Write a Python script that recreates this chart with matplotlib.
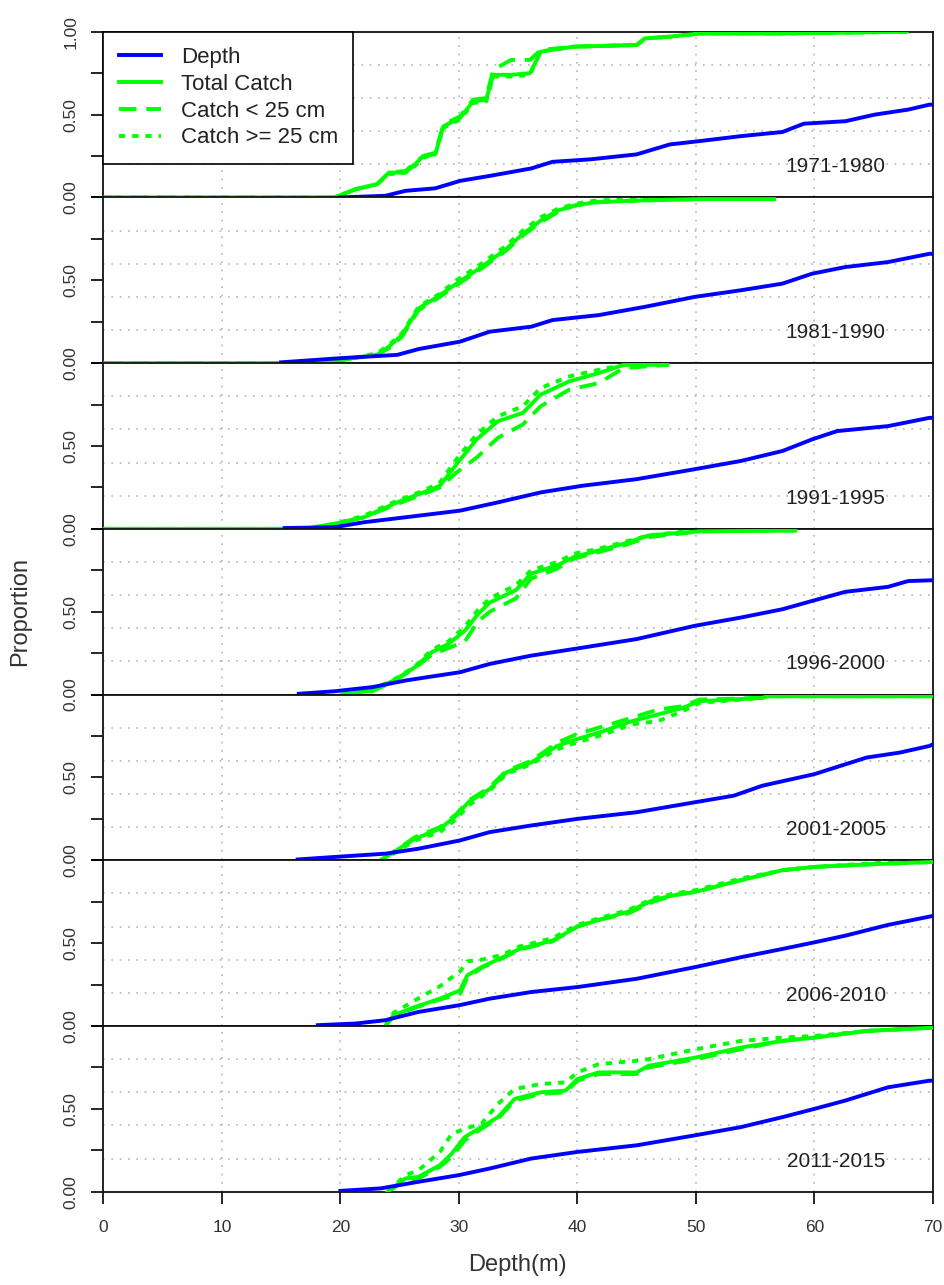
import matplotlib
matplotlib.use("Agg")
import matplotlib.pyplot as plt
from matplotlib.lines import Line2D

plt.rcParams['font.family'] = ['Liberation Sans', 'DejaVu Sans']

periods = ["1971-1980", "1981-1990", "1991-1995", "1996-2000",
           "2001-2005", "2006-2010", "2011-2015"]

# cumulative proportion of fished depth (blue)
depth_x = [
    [20.0, 23.8, 25.5, 28.0, 30.1, 32.6, 36.1, 37.9, 41.1, 45.0, 47.8, 50.3, 53.8, 57.3, 59.1, 62.6, 65.1, 67.9, 69.7, 70],
    [15.0, 20.0, 24.8, 26.6, 30.1, 32.6, 36.1, 37.9, 41.8, 45.7, 49.9, 53.8, 57.3, 59.8, 62.6, 66.2, 69.7, 70],
    [15.3, 19.5, 22.0, 25.5, 30.1, 33.3, 36.9, 40.4, 45.0, 49.9, 53.8, 57.3, 59.8, 61.9, 66.2, 69.7, 70],
    [16.5, 19.5, 22.7, 25.5, 30.1, 32.6, 36.1, 39.7, 45.0, 49.9, 53.8, 57.3, 59.8, 62.6, 66.2, 67.9, 70],
    [16.4, 19.5, 23.8, 26.6, 30.1, 32.6, 36.1, 40.0, 45.0, 49.9, 53.2, 55.6, 60.0, 64.4, 67.2, 69.7, 70],
    [18.1, 21.3, 23.8, 26.6, 30.0, 32.6, 36.1, 40.0, 45.0, 49.9, 53.8, 57.3, 60.0, 62.6, 66.2, 69.7, 70],
    [20.0, 23.4, 26.6, 30.0, 32.6, 36.1, 40.0, 45.0, 49.9, 53.8, 57.3, 60.0, 62.6, 66.2, 69.7, 70],
]
depth_y = [
    [0, 0.01, 0.04, 0.055, 0.10, 0.13, 0.175, 0.215, 0.23, 0.26, 0.32, 0.34, 0.37, 0.395, 0.445, 0.46, 0.50, 0.53, 0.56, 0.56],
    [0.005, 0.03, 0.05, 0.085, 0.13, 0.19, 0.22, 0.26, 0.29, 0.34, 0.40, 0.44, 0.48, 0.54, 0.58, 0.61, 0.66, 0.66],
    [0.005, 0.01, 0.04, 0.07, 0.11, 0.16, 0.22, 0.26, 0.30, 0.36, 0.41, 0.47, 0.54, 0.59, 0.62, 0.67, 0.67],
    [0.005, 0.02, 0.045, 0.085, 0.135, 0.185, 0.235, 0.275, 0.335, 0.415, 0.465, 0.515, 0.565, 0.62, 0.65, 0.685, 0.69],
    [0.005, 0.02, 0.04, 0.07, 0.12, 0.17, 0.21, 0.25, 0.29, 0.35, 0.39, 0.45, 0.52, 0.62, 0.65, 0.69, 0.70],
    [0.005, 0.015, 0.035, 0.085, 0.125, 0.165, 0.205, 0.235, 0.285, 0.355, 0.415, 0.465, 0.505, 0.545, 0.61, 0.66, 0.665],
    [0.005, 0.02, 0.06, 0.10, 0.14, 0.20, 0.24, 0.28, 0.34, 0.39, 0.45, 0.50, 0.55, 0.63, 0.67, 0.67],
]

# cumulative proportion of catch (green)
catch_x = [
    [0, 19.5, 21.3, 23.1, 24.1, 25.5, 26.3, 27.0, 28.0, 28.7, 30.1, 31.2, 32.3, 32.9, 34.4, 36.0, 36.9, 39.7, 45.0, 45.7, 47.8, 50.3, 57.3, 67.8],
    [0, 18.8, 21.0, 23.1, 24.1, 25.2, 26.6, 28.4, 29.8, 31.9, 34.0, 35.4, 36.9, 38.3, 39.7, 41.4, 44.3, 50.3, 56.6],
    [0, 17.0, 19.5, 22.0, 24.8, 27.0, 28.4, 29.8, 31.5, 33.3, 35.4, 36.9, 39.3, 41.8, 43.9, 47.6],
    [20.2, 22.7, 24.5, 26.3, 27.7, 29.1, 30.5, 31.6, 32.6, 34.8, 36.1, 38.3, 39.7, 41.8, 43.9, 46.0, 48.5, 50.3, 58.4],
    [23.4, 24.5, 26.3, 28.4, 29.8, 30.8, 32.6, 34.0, 36.1, 38.3, 39.9, 41.8, 44.6, 46.8, 48.9, 50.3, 55.6, 56.0, 70],
    [23.8, 24.5, 26.3, 28.4, 30.1, 30.7, 31.9, 33.7, 35.1, 37.9, 40.0, 41.8, 44.3, 46.4, 48.2, 50.0, 53.8, 57.3, 60.0, 64.4, 70],
    [24.0, 25.5, 26.6, 28.4, 29.4, 30.5, 31.9, 33.3, 34.7, 36.9, 39.0, 40.0, 41.8, 45.0, 46.0, 50.0, 53.8, 57.3, 60.0, 64.4, 70],
]
total_catch = [
    [0, 0, 0.05, 0.08, 0.15, 0.15, 0.20, 0.25, 0.26, 0.43, 0.48, 0.58, 0.59, 0.74, 0.74, 0.75, 0.88, 0.91, 0.92, 0.96, 0.97, 0.99, 0.99, 1.00],
    [0, 0, 0.03, 0.05, 0.10, 0.17, 0.33, 0.41, 0.48, 0.58, 0.69, 0.78, 0.86, 0.92, 0.95, 0.97, 0.98, 0.99, 0.99],
    [0, 0, 0.03, 0.07, 0.16, 0.22, 0.26, 0.39, 0.54, 0.65, 0.70, 0.81, 0.89, 0.94, 0.99, 0.99],
    [0, 0.025, 0.085, 0.165, 0.255, 0.305, 0.385, 0.485, 0.555, 0.63, 0.73, 0.78, 0.83, 0.87, 0.91, 0.96, 0.975, 0.985, 0.99],
    [0, 0.05, 0.13, 0.19, 0.27, 0.35, 0.43, 0.53, 0.59, 0.69, 0.73, 0.77, 0.84, 0.88, 0.92, 0.96, 0.98, 0.99, 0.99],
    [0, 0.065, 0.115, 0.165, 0.215, 0.305, 0.355, 0.415, 0.465, 0.515, 0.60, 0.64, 0.69, 0.76, 0.79, 0.81, 0.88, 0.94, 0.96, 0.975, 0.99],
    [0, 0.08, 0.09, 0.16, 0.23, 0.33, 0.39, 0.45, 0.56, 0.60, 0.61, 0.68, 0.72, 0.72, 0.76, 0.81, 0.87, 0.91, 0.93, 0.97, 0.99],
]
catch_small = [
    [0, 0, 0.05, 0.08, 0.15, 0.16, 0.21, 0.25, 0.27, 0.44, 0.49, 0.59, 0.60, 0.77, 0.83, 0.83, 0.89, 0.91, 0.92, 0.96, 0.97, 0.99, 0.99, 1.00],
    [0, 0, 0.03, 0.05, 0.09, 0.16, 0.32, 0.40, 0.47, 0.57, 0.68, 0.77, 0.85, 0.91, 0.95, 0.97, 0.98, 0.99, 0.99],
    [0, 0, 0.03, 0.07, 0.15, 0.21, 0.25, 0.34, 0.43, 0.55, 0.63, 0.74, 0.84, 0.88, 0.97, 0.99],
    [0, 0.02, 0.08, 0.16, 0.24, 0.28, 0.32, 0.44, 0.50, 0.58, 0.70, 0.76, 0.82, 0.86, 0.90, 0.95, 0.97, 0.985, 0.99],
    [0, 0.05, 0.14, 0.20, 0.28, 0.36, 0.44, 0.54, 0.60, 0.71, 0.76, 0.80, 0.86, 0.91, 0.93, 0.97, 0.98, 0.99, 0.99],
    [0, 0.06, 0.11, 0.16, 0.195, 0.29, 0.35, 0.41, 0.46, 0.51, 0.60, 0.64, 0.68, 0.75, 0.79, 0.81, 0.88, 0.94, 0.96, 0.975, 0.99],
    [0, 0.07, 0.08, 0.15, 0.21, 0.31, 0.38, 0.44, 0.55, 0.59, 0.60, 0.67, 0.71, 0.71, 0.75, 0.80, 0.86, 0.91, 0.93, 0.97, 0.99],
]
catch_large = [
    [0, 0, 0.05, 0.08, 0.14, 0.15, 0.19, 0.24, 0.26, 0.42, 0.47, 0.57, 0.58, 0.73, 0.73, 0.74, 0.88, 0.91, 0.92, 0.96, 0.97, 0.99, 0.99, 1.00],
    [0, 0, 0.03, 0.06, 0.11, 0.18, 0.34, 0.42, 0.50, 0.60, 0.71, 0.80, 0.88, 0.93, 0.96, 0.98, 0.99, 0.99, 1.00],
    [0, 0, 0.03, 0.08, 0.17, 0.23, 0.28, 0.42, 0.57, 0.68, 0.74, 0.85, 0.92, 0.96, 0.99, 1.00],
    [0, 0.03, 0.09, 0.17, 0.27, 0.32, 0.41, 0.51, 0.58, 0.66, 0.75, 0.80, 0.85, 0.88, 0.92, 0.96, 0.98, 0.99, 1.00],
    [0, 0.04, 0.12, 0.17, 0.25, 0.33, 0.42, 0.52, 0.58, 0.67, 0.71, 0.75, 0.82, 0.84, 0.90, 0.95, 0.98, 0.99, 1.00],
    [0, 0.08, 0.155, 0.24, 0.33, 0.39, 0.40, 0.43, 0.48, 0.53, 0.61, 0.65, 0.70, 0.77, 0.80, 0.82, 0.89, 0.94, 0.96, 0.98, 1.00],
    [0, 0.10, 0.13, 0.24, 0.35, 0.38, 0.41, 0.53, 0.62, 0.65, 0.66, 0.72, 0.77, 0.79, 0.80, 0.86, 0.91, 0.93, 0.94, 0.97, 0.99],
]

x_ticks = [0, 10, 20, 30, 40, 50, 60, 70]

BLUE = "#0000FF"
GREEN = "#00FF00"
LW = 2.8
DASH = (0, (4.5, 2.5))
DOT = (0, (1.6, 1.8))
GRID = dict(color="#b5b5b5", linewidth=1.2, linestyle=(0, (1, 4)))

fig = plt.figure(figsize=(9.45, 12.85), dpi=100)
gs = fig.add_gridspec(7, 1, left=0.1093, right=0.9873, top=0.9753, bottom=0.0726, hspace=0)

for i, label in enumerate(periods):
    ax = fig.add_subplot(gs[i])
    ax.set_xlim(0, 70)
    ax.set_ylim(0, 1)

    for gx in [10, 20, 30, 40, 50, 60]:
        ax.axvline(gx, zorder=0, **GRID)
    for gy in [0.2, 0.4, 0.6, 0.8]:
        ax.axhline(gy, zorder=0, **GRID)

    ax.plot(catch_x[i], catch_small[i], color=GREEN, lw=LW, linestyle=DASH, zorder=2)
    ax.plot(catch_x[i], catch_large[i], color=GREEN, lw=LW, linestyle=DOT, zorder=2)
    ax.plot(catch_x[i], total_catch[i], color=GREEN, lw=LW, zorder=3)
    ax.plot(depth_x[i], depth_y[i], color=BLUE, lw=LW, zorder=4)

    ax.text(61.8, 0.185, label, ha="center", va="center", fontsize=15, color="#222222")

    for s in ax.spines.values():
        s.set_linewidth(1.3)
        s.set_color("#111111")

    ax.set_yticks([0, 0.25, 0.5, 0.75, 1.0])
    if i == 0:
        ax.set_yticklabels(["0.00", "", "0.50", "", "1.00"])
    else:
        ax.set_yticklabels(["0.00", "", "0.50", "", ""])
    ax.tick_params(axis="y", direction="out", length=8.6, width=1.2, pad=9,
                   labelsize=12.5, labelcolor="#333333")
    for t in ax.get_yticklabels():
        t.set_rotation(90)
        t.set_va("center")

    ax.set_xticks(x_ticks)
    if i == len(periods) - 1:
        ax.tick_params(axis="x", direction="out", length=8.6, width=1.2, pad=12,
                       labelsize=12.5, labelcolor="#333333")
    else:
        ax.tick_params(axis="x", length=0, labelbottom=False)

    if i == 0:
        handles = [
            Line2D([], [], color=BLUE, lw=LW),
            Line2D([], [], color=GREEN, lw=LW),
            Line2D([], [], color=GREEN, lw=LW, linestyle=DASH),
            Line2D([], [], color=GREEN, lw=LW, linestyle=DOT),
        ]
        leg = ax.legend(handles, ["Depth", "Total Catch", "Catch < 25 cm", "Catch >= 25 cm"],
                        loc="upper left", borderaxespad=0, fontsize=16, frameon=True,
                        fancybox=False, framealpha=1, edgecolor="black",
                        handlelength=1.9, handletextpad=0.9, labelspacing=0.26,
                        borderpad=0.69)
        leg.get_frame().set_linewidth(1.2)
        leg.set_zorder(10)
        for t in leg.get_texts():
            t.set_color("#222222")

fig.text(0.548, 0.0156, "Depth(m)", ha="center", va="center", fontsize=17, color="#333333")
fig.text(0.021, 0.524, "Proportion", ha="center", va="center", rotation=90, fontsize=17, color="#333333")

fig.savefig("out.png", dpi=100)
